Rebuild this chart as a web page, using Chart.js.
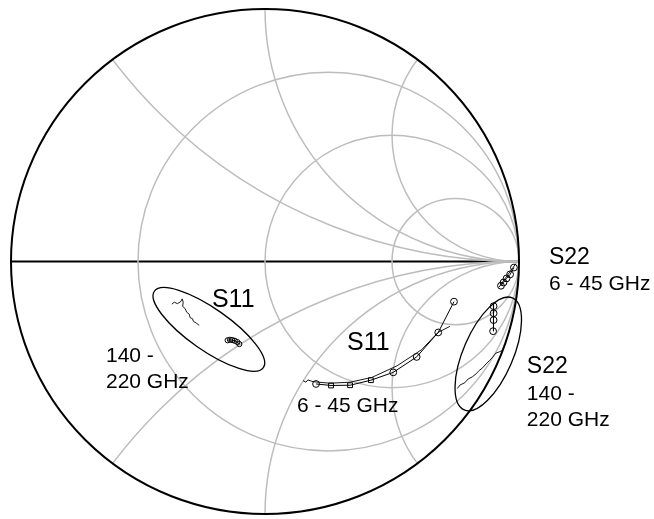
<!DOCTYPE html>
<html>
<head>
<meta charset="utf-8">
<script src="https://cdn.jsdelivr.net/npm/chart.js@4.4.1/dist/chart.umd.min.js"></script>
<style>
  html, body { margin: 0; padding: 0; background: #fff; }
  canvas { display: block; }
</style>
</head>
<body>
<canvas id="smith" width="654" height="519"></canvas>
<script>
// Smith chart grid: normalized resistance circles and reactance arcs
const resistanceCircles = [1 / 3, 1, 3];
const reactanceArcs = [0.5, 1, 2, -0.5, -1, -2];

// Reflection coefficients [real, imaginary]
// S11, 6 - 45 GHz, measured (with markers)
const s11LowMeas = [
  [0.744, -0.159], [0.682, -0.281], [0.597, -0.378], [0.505, -0.439],
  [0.417, -0.470], [0.335, -0.490], [0.260, -0.491], [0.201, -0.485]
];
const s11LowMarkers = ['circle', 'circle', 'circle', 'circle', 'rect', 'rect', 'rect', 'circle'];
// S11, 6 - 45 GHz, model
const s11LowModel = [
  [0.728, -0.257], [0.681, -0.281], [0.617, -0.349], [0.520, -0.413],
  [0.421, -0.459], [0.335, -0.478], [0.256, -0.482], [0.189, -0.476],
  [0.169, -0.469], [0.161, -0.478], [0.150, -0.472]
];
// S11, 140 - 220 GHz, model (markers)
const s11HighModel = [
  [-0.147, -0.312], [-0.138, -0.310], [-0.129, -0.311],
  [-0.119, -0.314], [-0.109, -0.319], [-0.101, -0.327]
];
// S11, 140 - 220 GHz, measured
const s11HighMeas = [
  [-0.367, -0.169], [-0.357, -0.161], [-0.345, -0.167], [-0.332, -0.159],
  [-0.326, -0.148], [-0.322, -0.161], [-0.324, -0.177], [-0.314, -0.188],
  [-0.308, -0.201], [-0.298, -0.209], [-0.295, -0.222], [-0.285, -0.227],
  [-0.282, -0.237], [-0.269, -0.245], [-0.259, -0.253]
];
// S22, 6 - 45 GHz, measured (with markers)
const s22LowMeas = [
  [0.980, -0.024], [0.965, -0.051], [0.951, -0.067], [0.939, -0.083], [0.929, -0.096]
];
// S22, 6 - 45 GHz, model
const s22LowModel = [
  [0.988, -0.008], [0.957, -0.051], [0.921, -0.102]
];
// S22, 140 - 220 GHz, model (markers)
const s22HighModel = [
  [0.900, -0.166], [0.900, -0.177], [0.900, -0.205], [0.900, -0.232], [0.898, -0.276]
];
const s22HighMarkers = [false, 'circle', 'circle', 'circle', 'circle'];
// S22, 140 - 220 GHz, measured
const s22HighMeas = [
  [0.757, -0.503], [0.768, -0.489], [0.787, -0.480], [0.800, -0.465],
  [0.816, -0.457], [0.831, -0.445], [0.843, -0.432], [0.857, -0.421],
  [0.870, -0.406], [0.883, -0.393], [0.896, -0.379], [0.909, -0.363],
  [0.922, -0.358], [0.933, -0.353]
];

// Group ellipses: centre [re, im], semi-axes (in |Γ| units), tilt in degrees
const groupEllipses = [
  { c: [-0.221, -0.269], a: 0.262, b: 0.082, tilt: 35 },
  { c: [0.879, -0.366], a: 0.240, b: 0.098, tilt: -66.7 }
];

// Text labels anchored at [re, im] (left, baseline)
const labels = [
  { t: 'S11', at: [-0.209, -0.181], size: 25 },
  { t: '140 -', at: [-0.626, -0.398], size: 21 },
  { t: '220 GHz', at: [-0.626, -0.500], size: 21 },
  { t: 'S11', at: [0.323, -0.350], size: 25 },
  { t: '6 - 45 GHz', at: [0.126, -0.598], size: 21 },
  { t: 'S22', at: [1.118, -0.008], size: 23 },
  { t: '6 - 45 GHz', at: [1.118, -0.114], size: 21 },
  { t: 'S22', at: [1.031, -0.441], size: 23 },
  { t: '140 -', at: [1.031, -0.547], size: 21 },
  { t: '220 GHz', at: [1.031, -0.650], size: 21 }
];

const toXY = arr => arr.map(p => ({ x: p[0], y: p[1] }));

function traceDataset(points, opts) {
  return Object.assign({
    data: toXY(points),
    showLine: true,
    borderColor: '#000',
    borderWidth: 1,
    pointRadius: 0,
    pointBorderColor: '#000',
    pointBorderWidth: 1,
    pointBackgroundColor: 'rgba(0,0,0,0)',
    clip: false,
    tension: 0
  }, opts || {});
}

const smithGrid = {
  id: 'smithGrid',
  beforeDatasetsDraw(chart) {
    const { ctx, scales: { x, y } } = chart;
    const cx = x.getPixelForValue(0), cy = y.getPixelForValue(0);
    const R = x.getPixelForValue(1) - cx;
    const Ry = cy - y.getPixelForValue(1);
    ctx.save();

    // real axis
    ctx.strokeStyle = '#000';
    ctx.lineWidth = 2;
    ctx.beginPath();
    ctx.moveTo(x.getPixelForValue(-1), cy);
    ctx.lineTo(x.getPixelForValue(1), cy);
    ctx.stroke();

    // grid clipped to the unit circle
    ctx.save();
    ctx.beginPath();
    ctx.ellipse(cx, cy, R, Ry, 0, 0, Math.PI * 2);
    ctx.clip();
    ctx.strokeStyle = '#bdbdbd';
    ctx.lineWidth = 1.5;
    resistanceCircles.forEach(r => {
      const c = r / (1 + r), rad = 1 / (1 + r);
      ctx.beginPath();
      ctx.ellipse(x.getPixelForValue(c), cy, rad * R, rad * Ry, 0, 0, Math.PI * 2);
      ctx.stroke();
    });
    reactanceArcs.forEach(xv => {
      const rad = 1 / Math.abs(xv);
      ctx.beginPath();
      ctx.ellipse(x.getPixelForValue(1), y.getPixelForValue(1 / xv), rad * R, rad * Ry, 0, 0, Math.PI * 2);
      ctx.stroke();
    });
    ctx.restore();

    // outer boundary |Γ| = 1
    ctx.strokeStyle = '#000';
    ctx.lineWidth = 2;
    ctx.beginPath();
    ctx.ellipse(cx, cy, R, Ry, 0, 0, Math.PI * 2);
    ctx.stroke();
    ctx.restore();
  },
  afterDatasetsDraw(chart) {
    const { ctx, scales: { x, y } } = chart;
    const R = x.getPixelForValue(1) - x.getPixelForValue(0);
    ctx.save();
    ctx.strokeStyle = '#000';
    ctx.lineWidth = 1.3;
    groupEllipses.forEach(e => {
      ctx.beginPath();
      ctx.ellipse(x.getPixelForValue(e.c[0]), y.getPixelForValue(e.c[1]),
        e.a * R, e.b * R, e.tilt * Math.PI / 180, 0, Math.PI * 2);
      ctx.stroke();
    });
    ctx.fillStyle = '#000';
    ctx.textAlign = 'left';
    ctx.textBaseline = 'alphabetic';
    labels.forEach(l => {
      ctx.font = l.size + 'px "Liberation Sans", Arial, sans-serif';
      ctx.fillText(l.t, x.getPixelForValue(l.at[0]), y.getPixelForValue(l.at[1]));
    });
    ctx.restore();
  }
};

new Chart(document.getElementById('smith'), {
  type: 'scatter',
  data: {
    datasets: [
      traceDataset(s11LowModel, { borderWidth: 0.9 }),
      traceDataset(s11LowMeas, { pointRadius: 3.4, pointStyle: s11LowMarkers }),
      traceDataset(s11HighMeas, { borderWidth: 0.9 }),
      traceDataset(s11HighModel, { pointRadius: 2.6, pointStyle: 'circle' }),
      traceDataset(s22LowModel, { borderWidth: 0.9 }),
      traceDataset(s22LowMeas, { pointRadius: 3.4, pointStyle: 'circle' }),
      traceDataset(s22HighMeas, { borderWidth: 0.9 }),
      traceDataset(s22HighModel, { pointRadius: 3.4, pointStyle: s22HighMarkers })
    ]
  },
  options: {
    responsive: false,
    animation: false,
    events: [],
    layout: { padding: { left: 11, right: 135, top: 9, bottom: 2 } },
    scales: {
      x: { type: 'linear', min: -1, max: 1, display: false },
      y: { type: 'linear', min: -1, max: 1, display: false }
    },
    plugins: { legend: { display: false }, tooltip: { enabled: false } }
  },
  plugins: [smithGrid]
});
</script>
</body>
</html>
